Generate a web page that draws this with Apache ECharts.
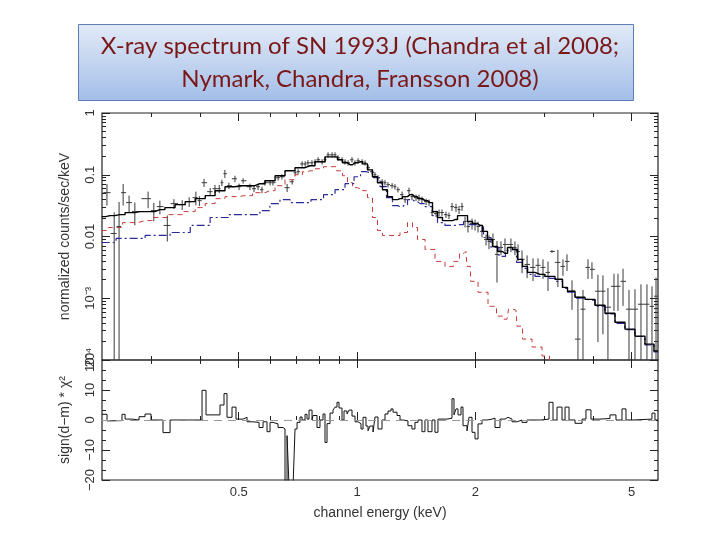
<!DOCTYPE html>
<html>
<head>
<meta charset="utf-8">
<title>X-ray spectrum of SN 1993J</title>
<script src="https://cdn.jsdelivr.net/npm/echarts@6/dist/echarts.min.js"></script>
<style>
  html, body { margin: 0; padding: 0; background: #fff; }
  #chart { width: 720px; height: 540px; }
</style>
</head>
<body>
<div id="chart"></div>
<script>
// channel energy (keV), counts/sec/keV, fractional error
const dataE = [0.231, 0.241, 0.248, 0.254, 0.263, 0.272, 0.294, 0.304, 0.315, 0.329, 0.342, 0.359, 0.374, 0.389, 0.397,
  0.408, 0.423, 0.435, 0.446, 0.453, 0.461, 0.472, 0.489, 0.501, 0.513,
  0.534, 0.547, 0.560, 0.573, 0.583, 0.601, 0.611, 0.630, 0.644, 0.664, 0.684, 0.696, 0.708, 0.725, 0.738, 0.750,
  0.768, 0.782, 0.796, 0.815, 0.829, 0.844, 0.864, 0.879, 0.895, 0.916, 0.932, 0.949, 0.971, 0.988, 1.006, 1.030,
  1.048, 1.067, 1.092, 1.111, 1.131, 1.158, 1.178, 1.199,
  1.228, 1.249, 1.271, 1.302, 1.325, 1.356, 1.380, 1.413, 1.438, 1.463, 1.499, 1.525, 1.552, 1.589, 1.617, 1.645,
  1.684, 1.714, 1.745, 1.786, 1.818, 1.850, 1.883, 1.916, 1.962, 1.997, 2.032, 2.080, 2.130, 2.167, 2.218, 2.271,
  2.325, 2.380, 2.464, 2.523, 2.569,
  2.630, 2.709, 2.805, 2.888, 2.974, 3.062, 3.134, 3.245, 3.343, 3.423, 3.525, 3.650, 3.759, 3.871, 3.962, 4.103,
  4.225, 4.351, 4.508, 4.615, 4.753, 4.922, 5.098, 5.280, 5.468, 5.632, 5.767];
const dataY = [0.0513, 0.0112, 0.0145, 0.0513, 0.0354, 0.0253, 0.0410, 0.0263, 0.0305, 0.0151, 0.0341, 0.0328, 0.0367, 0.0426, 0.0381,
  0.0743, 0.0532, 0.0595, 0.0595, 0.0743, 0.104, 0.0665, 0.0862, 0.0640, 0.0800,
  0.0640, 0.0595, 0.0640, 0.0573, 0.0743, 0.0743, 0.0743, 0.0895, 0.0929, 0.0617, 0.0771, 0.108, 0.112, 0.150, 0.150, 0.156,
  0.156, 0.162, 0.175, 0.162, 0.175, 0.210, 0.210, 0.210, 0.188, 0.175, 0.162, 0.156, 0.175, 0.156, 0.168, 0.162,
  0.156, 0.130, 0.112, 0.100, 0.0895, 0.0771, 0.0743, 0.0690,
  0.0665, 0.0640, 0.0573, 0.0476, 0.0395, 0.0552, 0.0442, 0.0426, 0.0426, 0.0395, 0.0367, 0.0354, 0.0244, 0.0235, 0.0244, 0.0244,
  0.0226, 0.0218, 0.0305, 0.0294, 0.0272, 0.0305, 0.0175, 0.0145, 0.0162, 0.0156, 0.0145, 0.0121, 0.00895, 0.00830, 0.00895, 0.00513,
  0.00665, 0.00743, 0.00743, 0.00665, 0.00573,
  0.00426, 0.00353, 0.00316, 0.00341, 0.00316, 0.00262, 0.00573, 0.00381, 0.00328, 0.00395, 0.00130, 0.000218, 0.000665, 0.00316, 0.00294, 0.00130,
  0.00130, 0.000716, 0.00156, 0.00156, 0.00188, 0.000665, 0.000665, 0.00080, 0.00080, 0.00074, 0.00108];
const dataErr = [0.38, 1.2, 1.5, 0.38, 0.3, 0.4, 0.3, 0.33, 0.25, 0.45, 0.18, 0.18, 0.18, 0.25, 0.18,
  0.15, 0.15, 0.15, 0.15, 0.12, 0.15, 0.12, 0.12, 0.12, 0.1,
  0.12, 0.12, 0.12, 0.12, 0.1, 0.1, 0.1, 0.1, 0.1, 0.15, 0.1, 0.1, 0.1, 0.1, 0.1, 0.1,
  0.1, 0.1, 0.1, 0.1, 0.1, 0.1, 0.1, 0.1, 0.1, 0.1, 0.1, 0.1, 0.1, 0.1, 0.1, 0.1,
  0.1, 0.1, 0.1, 0.1, 0.1, 0.1, 0.1, 0.1,
  0.1, 0.1, 0.1, 0.12, 0.12, 0.12, 0.12, 0.12, 0.12, 0.12, 0.12, 0.12, 0.12, 0.12, 0.12, 0.12,
  0.12, 0.12, 0.15, 0.15, 0.15, 0.15, 0.2, 0.2, 0.2, 0.2, 0.2, 0.2, 0.2, 0.25, 0.25, 0.65,
  0.25, 0.25, 0.25, 0.25, 0.3,
  0.4, 0.4, 0.4, 0.3, 0.35, 0.5, 0.05, 0.6, 0.3, 0.3, 0.5, 3.9, 1.05, 0.35, 0.3, 0.85,
  0.8, 1.05, 0.6, 0.6, 0.6, 1.05, 1.1, 1.1, 1.1, 1.1, 1.0];

// folded model: total, soft (red) and hard (blue) components
const totalE = [0.224, 0.235, 0.249, 0.265, 0.280, 0.297, 0.315, 0.334, 0.355, 0.376, 0.399, 0.423, 0.448, 0.475, 0.504,
  0.534, 0.566, 0.601, 0.637, 0.675, 0.716, 0.759, 0.805, 0.854, 0.879, 0.905, 0.932, 0.960, 0.988, 1.018, 1.048,
  1.079, 1.111, 1.144, 1.178, 1.213, 1.249, 1.287, 1.325, 1.364, 1.404, 1.447, 1.489, 1.534, 1.579, 1.626, 1.675,
  1.724, 1.776, 1.829, 1.883, 1.939, 1.997, 2.056, 2.117, 2.180, 2.245, 2.312, 2.380, 2.451, 2.524, 2.599, 2.676,
  2.756, 2.922, 3.098, 3.285, 3.384, 3.483, 3.694, 3.916, 4.152, 4.404, 4.669, 4.951, 5.249, 5.566, 5.834];
const totalY = [0.0210, 0.0218, 0.0226, 0.0244, 0.0253, 0.0253, 0.0272, 0.0294, 0.0328, 0.0367, 0.0410, 0.0459, 0.0552, 0.0640, 0.0665,
  0.0665, 0.0716, 0.0800, 0.0964, 0.116, 0.130, 0.140, 0.162, 0.195, 0.195, 0.175, 0.156, 0.145, 0.156, 0.162, 0.150,
  0.120, 0.0929, 0.0743, 0.0573, 0.0442, 0.0395, 0.0410, 0.0442, 0.0476, 0.0442, 0.0410, 0.0381, 0.0354, 0.0253, 0.0203, 0.0181,
  0.0181, 0.0188, 0.0218, 0.0218, 0.0175, 0.0162, 0.0151, 0.0121, 0.00895, 0.00690, 0.00573, 0.00532, 0.00665, 0.00617, 0.00426, 0.00328,
  0.00262, 0.00244, 0.00226, 0.00203, 0.00150, 0.00130, 0.00104, 0.00096, 0.00077, 0.000573, 0.000409, 0.000316, 0.000244, 0.000181, 0.000140];
const softE = [0.224, 0.242, 0.265, 0.289, 0.315, 0.344, 0.376, 0.399, 0.423, 0.448, 0.475, 0.519, 0.566, 0.601, 0.637,
  0.675, 0.716, 0.737, 0.759, 0.805, 0.839, 0.869, 0.905, 0.932, 0.960, 0.988, 1.018, 1.048, 1.079, 1.111, 1.144,
  1.178, 1.249, 1.325, 1.364, 1.404, 1.447, 1.534, 1.626, 1.724, 1.797, 1.850, 1.894, 1.916, 1.973, 2.093, 2.218,
  2.312, 2.408, 2.451, 2.538, 2.569, 2.709, 2.871, 3.045, 3.134];
const softY = [0.0125, 0.0140, 0.0168, 0.0181, 0.0203, 0.0226, 0.0253, 0.0294, 0.0341, 0.0410, 0.0442, 0.0459, 0.0513, 0.0552, 0.0665,
  0.0830, 0.100, 0.112, 0.116, 0.125, 0.135, 0.135, 0.116, 0.0964, 0.0743, 0.0617, 0.0595, 0.0552, 0.0426, 0.0203, 0.0125,
  0.0104, 0.0104, 0.0116, 0.0168, 0.0140, 0.00895, 0.00617, 0.00395, 0.00328, 0.00395, 0.00532, 0.00573, 0.00328, 0.00188, 0.00125, 0.00074,
  0.000514, 0.000458, 0.000665, 0.00064, 0.000353, 0.000218, 0.000162, 0.000116, 0.00008];
const hardE = [0.224, 0.265, 0.315, 0.355, 0.399, 0.448, 0.495, 0.550, 0.583, 0.618, 0.656, 0.696, 0.737, 0.791, 0.854,
  0.905, 0.960, 1.006, 1.036, 1.079, 1.124, 1.165, 1.213, 1.249, 1.287, 1.325, 1.364, 1.404, 1.447, 1.534, 1.579,
  1.626, 1.724, 1.829, 1.905, 1.962, 2.056, 2.142, 2.245, 2.352, 2.423, 2.494, 2.599, 2.676, 2.756, 2.922, 3.098,
  3.285, 3.384, 3.483, 3.694, 3.916, 4.152, 4.404, 4.669, 4.951, 5.249, 5.566, 5.834];
const hardY = [0.0080, 0.0093, 0.0104, 0.0116, 0.0151, 0.0203, 0.0226, 0.0226, 0.0263, 0.0341, 0.0395, 0.0354, 0.0354, 0.0395, 0.0476,
  0.0573, 0.0716, 0.0929, 0.112, 0.108, 0.0895, 0.0640, 0.0426, 0.0316, 0.0305, 0.0328, 0.0395, 0.0367, 0.0341, 0.0305, 0.0218,
  0.0168, 0.0151, 0.0156, 0.0175, 0.0156, 0.0151, 0.00964, 0.00665, 0.00476, 0.00595, 0.00617, 0.00381, 0.00305, 0.00244, 0.00226, 0.0021,
  0.00188, 0.00145, 0.00125, 0.0010, 0.00093, 0.00074, 0.00056, 0.00039, 0.00031, 0.00024, 0.000175, 0.000135];

// residuals: left edge of each bin (keV) and sign(d-m)*chi^2
const resE = [0.2244, 0.2311, 0.2352, 0.2523, 0.2569, 0.2676, 0.2788, 0.2888, 0.2991, 0.3208, 0.3344, 0.4033, 0.4128, 0.4480, 0.4587,
  0.4668, 0.4807, 0.4921, 0.5128, 0.5250, 0.5438, 0.5633, 0.5766, 0.5902, 0.6007, 0.6114, 0.6295, 0.6481, 0.6558, 0.6636,
  0.6714, 0.6874, 0.6955, 0.7037, 0.7161, 0.7246, 0.7374, 0.7461, 0.7549, 0.7683, 0.7727, 0.7910, 0.8050, 0.8193, 0.8290,
  0.8388, 0.8537, 0.8688, 0.8790, 0.8894, 0.8999, 0.9158, 0.9266, 0.9431, 0.9542, 0.9712, 0.9883, 1.0059, 1.0237, 1.0358,
  1.0541, 1.0666, 1.0791, 1.0983, 1.1111, 1.1309, 1.1577, 1.1783, 1.1992, 1.2205, 1.2349, 1.2641, 1.2866, 1.3094, 1.3478,
  1.3798, 1.4043, 1.4292, 1.4631, 1.4890, 1.5155, 1.5515, 1.5790, 1.6070, 1.6943, 1.7446, 1.7652, 1.7860, 1.8072, 1.8392,
  1.8609, 1.9051, 1.9275, 1.9618, 1.9966, 2.0321, 2.0802, 2.1420, 2.2056, 2.2447, 2.3115, 2.3800, 2.4225, 2.4800, 2.5537,
  2.6295, 2.7078, 2.9393, 3.0803, 3.1534, 3.2285, 3.3248, 3.3838, 3.4640, 3.5878, 3.7385, 3.8253, 3.9389, 4.1523, 4.4036,
  4.5604, 4.7236, 4.8358, 5.0385, 5.6317, 5.7318, 5.8337];
const resV = [1.9, -0.3, -0.2, 1.9, 0.3, 0, 1.1, 2.0, 0, -4.2, 0, 9.9, 1.7, 5.0, 8.8,
  0.9, 4.3, 0.3, 0.9, -0.6, -0.8, -2.5, -0.6, -3.9, -0.8, -1.3, -2.5, -3.0, -22, -5.2,
  -22, -22, -3.0, -0.8, 1.0, 0, 1.9, 0.3, 3.3, 0, 1.5, -2.5, 0, 2.0, -7.5,
  -1.2, 2.3, 3.3, 4.3, 5.9, 4.0, 0, 3.0, 2.0, 3.3, 1.3, -0.6, -1.2, -3.0, 0.9,
  -2.0, -3.6, -2, -4, 1, -3, 0, 2, 3, 3.7, 2.6, 1.5, 0, -0.3, -1.9,
  -3, -0.8, 0, -3.9, 0, -3.9, 0, -4.1, 0.3, 0.6, 7.1, 1.7, 3.7, 1.7, 4.3,
  -1.9, -3.6, 0.9, -4.1, -6.3, -1.3, 0, 0.3, 0.6, -2.5, 0.3, 0.9, 0.3, -0.6, 0,
  -0.8, 0, 0.3, 5.9, 0, 4.3, 0, 4.3, 0, -1.1, 0.3, 3.4, 0.3, 0.5, 1.7,
  0, 3.7, 0, 0.3, 2.3, 0, 0];

// axis ranges and ticks
const xMin = 0.2244, xMax = 5.834;
const xMajor = [0.5, 1, 2, 5];
const xMinor = [0.3, 0.4, 0.6, 0.7, 0.8, 0.9, 3, 4];
const yMin = 1e-4, yMax = 1;
const yMajor = [1e-4, 1e-3, 0.01, 0.1, 1];
const yMinor = [2e-4, 3e-4, 4e-4, 5e-4, 6e-4, 7e-4, 8e-4, 9e-4, 2e-3, 3e-3, 4e-3, 5e-3, 6e-3, 7e-3, 8e-3, 9e-3,
  0.02, 0.03, 0.04, 0.05, 0.06, 0.07, 0.08, 0.09, 0.2, 0.3, 0.4, 0.5, 0.6, 0.7, 0.8, 0.9];
const yLabels = {'0': '1', '-1': '0.1', '-2': '0.01', '-3': '10⁻³', '-4': '10⁻⁴'};

const chart = echarts.init(document.getElementById('chart'));

const labelFont = { fontFamily: 'Liberation Sans', fontSize: 13, color: '#333' };
const tickColor = '#222';

// errorbar rows: E, y, low, high, binLo, binHi
const errRows = dataE.map((e, i) => {
  const prev = i > 0 ? dataE[i - 1] : e * e / dataE[i + 1];
  const next = i < dataE.length - 1 ? dataE[i + 1] : e * e / dataE[i - 1];
  const lo = Math.max(dataY[i] * (1 - dataErr[i]), yMin);
  const hi = dataY[i] * (1 + dataErr[i]);
  return [e, dataY[i], lo, hi, Math.sqrt(prev * e), Math.sqrt(e * next)];
});

function xAxisSet(grid, withLabels) {
  const base = { type: 'log', gridIndex: grid, min: xMin, max: xMax, axisLine: { show: false }, splitLine: { show: false } };
  const mk = (pos, ticks, len, labels) => Object.assign({}, base, {
    position: pos,
    axisTick: { show: true, inside: true, length: len, customValues: ticks, lineStyle: { color: tickColor, width: 1 } },
    axisLabel: labels ? Object.assign({ show: true, customValues: xMajor, margin: 6, formatter: v => String(+v.toPrecision(3)) }, labelFont) : { show: false }
  });
  return [mk('bottom', xMajor, 8, withLabels), mk('bottom', xMinor, 4, false), mk('top', xMajor, 8, false), mk('top', xMinor, 4, false)];
}

function yAxisSetLog(grid) {
  const base = { type: 'log', gridIndex: grid, min: yMin, max: yMax, axisLine: { show: false }, splitLine: { show: false } };
  const mk = (pos, ticks, len, labels) => Object.assign({}, base, {
    position: pos,
    axisTick: { show: true, inside: true, length: len, customValues: ticks, lineStyle: { color: tickColor, width: 1 } },
    axisLabel: labels ? Object.assign({
      show: true, customValues: yMajor, rotate: 90, margin: 5,
      formatter: v => yLabels[String(Math.round(Math.log10(v)))]
    }, labelFont) : { show: false },
    name: labels ? 'normalized counts/sec/keV' : '',
    nameLocation: 'middle', nameGap: 30, nameRotate: 90,
    nameTextStyle: { fontFamily: 'Liberation Sans', fontSize: 14, color: '#333' }
  });
  return [mk('left', yMajor, 8, true), mk('left', yMinor, 4, false), mk('right', yMajor, 8, false), mk('right', yMinor, 4, false)];
}

function yAxisSetRes(grid) {
  const base = { type: 'value', gridIndex: grid, min: -20, max: 20, interval: 10, axisLine: { show: false }, splitLine: { show: false } };
  const mk = (pos, labels) => Object.assign({}, base, {
    position: pos,
    axisTick: { show: true, inside: true, length: 8, lineStyle: { color: tickColor, width: 1 } },
    minorTick: { show: true, splitNumber: 3, length: 4, lineStyle: { color: tickColor, width: 1 } },
    axisLabel: labels ? Object.assign({ show: true, rotate: 90, margin: 5, formatter: v => String(v).replace('-', '\u2212') }, labelFont) : { show: false },
    name: labels ? 'sign(d\u2212m) * \u03c7\u00b2' : '',
    nameLocation: 'middle', nameGap: 30, nameRotate: 90,
    nameTextStyle: { fontFamily: 'Liberation Sans', fontSize: 14, color: '#333' }
  });
  return [mk('left', true), mk('right', false)];
}

const xAxes = xAxisSet(0, false).concat(xAxisSet(1, true));
xAxes[4].name = 'channel energy (keV)';
xAxes[4].nameLocation = 'middle';
xAxes[4].nameGap = 26;
xAxes[4].nameTextStyle = { fontFamily: 'Liberation Sans', fontSize: 14, color: '#333' };

const yAxes = yAxisSetLog(0).concat(yAxisSetRes(1));

chart.setOption({
  animation: false,
  backgroundColor: '#fff',
  title: {
    text: 'X-ray spectrum of SN 1993J (Chandra et al 2008;\nNymark, Chandra, Fransson 2008)',
    left: 355, top: 25, textAlign: 'center',
    textStyle: { fontFamily: 'Lato', fontSize: 24, fontWeight: 'normal', color: '#7a1818', lineHeight: 33 }
  },
  graphic: [{
    type: 'rect', z: -1, left: 78, top: 24,
    shape: { width: 555, height: 76 },
    style: {
      fill: new echarts.graphic.LinearGradient(0, 0, 0, 1, [{ offset: 0, color: '#e2eaf7' }, { offset: 1, color: '#a3bee8' }]),
      stroke: '#5d7fb5', lineWidth: 1
    }
  }],
  grid: [
    { left: 102, top: 113, width: 556, height: 247, show: true, borderColor: '#222', borderWidth: 1.2 },
    { left: 102, top: 360, width: 556, height: 120, show: true, borderColor: '#222', borderWidth: 1.2 }
  ],
  xAxis: xAxes,
  yAxis: yAxes,
  series: [
    {
      type: 'custom', xAxisIndex: 0, yAxisIndex: 0,
      data: errRows,
      encode: { x: 0, y: 1 },
      renderItem: (params, api) => {
        const c = api.coord([api.value(0), api.value(1)]);
        const lo = api.coord([api.value(0), api.value(2)]);
        const hi = api.coord([api.value(0), api.value(3)]);
        const l = api.coord([api.value(4), api.value(1)]);
        const r = api.coord([api.value(5), api.value(1)]);
        const st = { stroke: '#3a3a3a', lineWidth: 1 };
        return {
          type: 'group', children: [
            { type: 'line', shape: { x1: c[0], y1: hi[1], x2: c[0], y2: lo[1] }, style: st },
            { type: 'line', shape: { x1: l[0], y1: c[1], x2: r[0], y2: c[1] }, style: st }
          ]
        };
      }
    },
    {
      type: 'line', xAxisIndex: 0, yAxisIndex: 0, step: 'middle', showSymbol: false,
      data: softE.map((e, i) => [e, softY[i]]),
      lineStyle: { color: '#c83a3a', width: 1, type: [5, 4] }
    },
    {
      type: 'line', xAxisIndex: 0, yAxisIndex: 0, step: 'middle', showSymbol: false,
      data: hardE.map((e, i) => [e, hardY[i]]),
      lineStyle: { color: '#2a2a9a', width: 1.2, type: [8, 3, 2, 3] }
    },
    {
      type: 'line', xAxisIndex: 0, yAxisIndex: 0, step: 'middle', showSymbol: false,
      data: totalE.map((e, i) => [e, totalY[i]]),
      lineStyle: { color: '#000', width: 1.4 }
    },
    {
      type: 'line', xAxisIndex: 4, yAxisIndex: 4, step: 'end', showSymbol: false,
      data: resE.map((e, i) => [e, resV[i]]),
      lineStyle: { color: '#111', width: 1 },
      markLine: {
        silent: true, symbol: 'none', label: { show: false },
        lineStyle: { color: '#999', type: [8, 6], width: 1.2 },
        data: [{ yAxis: 0 }]
      }
    }
  ]
});
</script>
</body>
</html>
